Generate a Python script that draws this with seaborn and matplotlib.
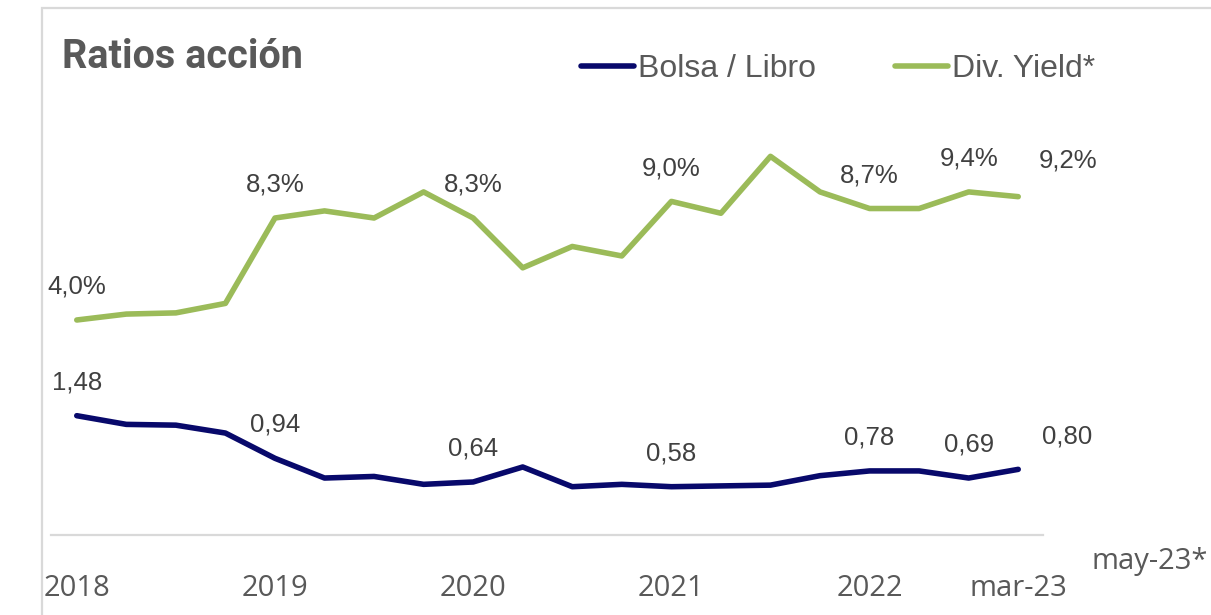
import numpy as np
import pandas as pd
import matplotlib
matplotlib.use('Agg')
import matplotlib.pyplot as plt
from matplotlib.patches import Rectangle
import seaborn as sns

# data (quarterly points)
periods = list(range(20))
bolsa_libro = [1.48, 1.37, 1.36, 1.26, 0.94, 0.69, 0.71, 0.61, 0.64, 0.83,
               0.58, 0.61, 0.58, 0.59, 0.60, 0.72, 0.78, 0.78, 0.69, 0.80]
div_yield = [4.0, 4.25, 4.3, 4.7, 8.3, 8.6, 8.3, 9.4, 8.3, 6.2,
             7.1, 6.7, 9.0, 8.5, 10.9, 9.4, 8.7, 8.7, 9.4, 9.2]
tick_pos = [0, 4, 8, 12, 16, 19]
tick_labels = ['2018', '2019', '2020', '2021', '2022', 'mar-23']
label_idx = [0, 4, 8, 12, 16, 18]
last_idx = 19

df = pd.DataFrame({'periodo': periods, 'bolsa_libro': bolsa_libro, 'div_yield': div_yield})

BLUE = '#08096b'
GREEN = '#9bbb59'
GREY = '#595959'
DARK = '#404040'

sns.set_style('white')
plt.rcParams['font.family'] = ['Liberation Sans', 'DejaVu Sans']

W, H = 1211, 615
fig = plt.figure(figsize=(W / 100, H / 100), dpi=100)

# light frame, only left and top edges visible
fig.patches.append(Rectangle((42 / W, -0.2), 2, 1.2 - 8 / H, transform=fig.transFigure,
                             fill=False, edgecolor='#d9d9d9', lw=1.6))

ax = fig.add_axes([51 / W, 1 - 535 / H, 992 / W, 435 / H])
ax2 = ax.twinx()

sns.lineplot(data=df, x='periodo', y='bolsa_libro', ax=ax, color=BLUE, lw=4,
             label='Bolsa / Libro', legend=False)
sns.lineplot(data=df, x='periodo', y='div_yield', ax=ax2, color=GREEN, lw=4,
             label='Div. Yield*', legend=False)

ax.set_xlim(-0.52, 19.5)
ax.set_ylim(-0.032, 5.481)
ax2.set_ylim(-5.064, 13.275)

for a in (ax, ax2):
    a.set_yticks([])
    a.set_ylabel('')
    a.set_xlabel('')
    for s in ['left', 'right', 'top', 'bottom']:
        a.spines[s].set_visible(False)
ax.spines['bottom'].set_visible(True)
ax.spines['bottom'].set_color('#d9d9d9')
ax.spines['bottom'].set_linewidth(1.6)

ax.set_xticks(tick_pos)
ax.set_xticklabels(tick_labels)
ax.tick_params(axis='x', length=0, pad=28, labelsize=21, labelcolor=GREY)
for t in ax.get_xticklabels():
    t.set_fontfamily(['Open Sans', 'DejaVu Sans'])


def fmt(v, pct):
    s = f'{v:.1f}%' if pct else f'{v:.2f}'
    return s.replace('.', ',')


# data labels
for i in label_idx:
    ax.annotate(fmt(bolsa_libro[i], False), (periods[i], bolsa_libro[i]), xytext=(0, 24),
                textcoords='offset points', ha='center', va='center', fontsize=18.5, color=DARK)
    ax2.annotate(fmt(div_yield[i], True), (periods[i], div_yield[i]), xytext=(0, 24),
                 textcoords='offset points', ha='center', va='center', fontsize=18.5, color=DARK)
ax.annotate(fmt(bolsa_libro[last_idx], False), (periods[last_idx], bolsa_libro[last_idx]),
            xytext=(35.5, 24), textcoords='offset points', ha='center', va='center',
            fontsize=18.5, color=DARK)
ax2.annotate(fmt(div_yield[last_idx], True), (periods[last_idx], div_yield[last_idx]),
             xytext=(36, 26), textcoords='offset points', ha='center', va='center',
             fontsize=18.5, color=DARK)

fig.text(1150 / W, 1 - 561 / H, 'may-23*', ha='center', va='center', fontsize=21,
         color=GREY, family=['Open Sans', 'DejaVu Sans'])

fig.text(62 / W, 1 - 68 / H, 'Ratios acción', ha='left', va='baseline', fontsize=28.5,
         fontweight='bold', color=GREY, family=['Roboto', 'DejaVu Sans'])

handles = ax.get_lines()[:1] + ax2.get_lines()[:1]
fig.legend(handles, ['Bolsa / Libro', 'Div. Yield*'], loc='center left',
           bbox_to_anchor=(581 / W, 1 - 69 / H), ncol=2, frameon=False, fontsize=23,
           handlelength=1.65, handletextpad=0.12, columnspacing=2.5, borderpad=0,
           borderaxespad=0, labelcolor=GREY)

fig.savefig('out.png', dpi=100)
